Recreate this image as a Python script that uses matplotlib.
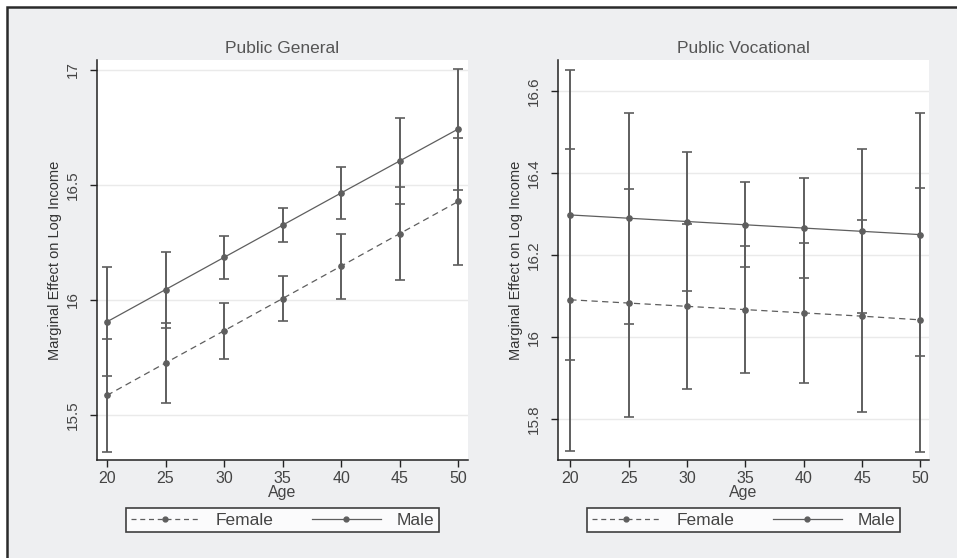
import matplotlib
matplotlib.use("Agg")
import matplotlib.pyplot as plt
from matplotlib.patches import Rectangle
from matplotlib.lines import Line2D

# Values
ages = [20, 25, 30, 35, 40, 45, 50]

gen_male = [15.905, 16.045, 16.185, 16.325, 16.465, 16.604, 16.743]
gen_male_ci = [0.237, 0.165, 0.093, 0.074, 0.115, 0.188, 0.263]
gen_female = [15.585, 15.726, 15.866, 16.006, 16.147, 16.288, 16.428]
gen_female_ci = [0.245, 0.175, 0.121, 0.099, 0.141, 0.203, 0.276]

voc_male = [16.298, 16.290, 16.282, 16.274, 16.266, 16.258, 16.250]
voc_male_ci = [0.353, 0.257, 0.170, 0.104, 0.121, 0.200, 0.296]
voc_female = [16.091, 16.083, 16.075, 16.067, 16.059, 16.051, 16.042]
voc_female_ci = [0.368, 0.278, 0.201, 0.155, 0.171, 0.235, 0.322]

titles = ["Public General", "Public Vocational"]
gen_yticks = [15.5, 16, 16.5, 17]
gen_yticklabels = ["15.5", "16", "16.5", "17"]
voc_yticks = [15.8, 16, 16.2, 16.4, 16.6]
voc_yticklabels = ["15.8", "16", "16.2", "16.4", "16.6"]

plt.rcParams["font.family"] = ["Liberation Sans", "DejaVu Sans"]

line_col = "#5e5e5e"
bg = "#eeeff1"
text_col = "#444444"

fig = plt.figure(figsize=(9.57, 5.58), dpi=100)
fig.patch.set_facecolor("white")
frame = Rectangle((7.5 / 957, -0.05), 1.1, (558 - 6.5) / 558 + 0.05,
                  transform=fig.transFigure, facecolor=bg,
                  edgecolor="#2a2a2a", linewidth=1.8, zorder=-10)
fig.patches.append(frame)

panels = [
    (0.1014, gen_male, gen_male_ci, gen_female, gen_female_ci,
     (19.15, 50.85), (15.304, 17.043), gen_yticks, gen_yticklabels),
    (0.5831, voc_male, voc_male_ci, voc_female, voc_female_ci,
     (18.95, 50.74), (15.70, 16.676), voc_yticks, voc_yticklabels),
]

for i, (left, m, mci, f, fci, xl, yl, yt, ytl) in enumerate(panels):
    ax = fig.add_axes([left, 0.1756, 0.3877, 0.7168])
    ax.set_facecolor("white")

    ax.errorbar(ages, f, yerr=fci, fmt="none", ecolor=line_col,
                elinewidth=1.4, capsize=3.5, capthick=1.2, zorder=3)
    ax.errorbar(ages, m, yerr=mci, fmt="none", ecolor=line_col,
                elinewidth=1.4, capsize=3.5, capthick=1.2, zorder=3)
    ax.plot(ages, f, linestyle=(0, (5, 3.5)), color=line_col, linewidth=0.9,
            marker="o", markersize=3.8, zorder=4)
    ax.plot(ages, m, linestyle="-", color=line_col, linewidth=0.9,
            marker="o", markersize=3.8, zorder=4)

    ax.set_xlim(*xl)
    ax.set_ylim(*yl)
    ax.set_xticks(ages)
    ax.set_xticklabels([str(a) for a in ages])
    ax.set_yticks(yt)
    ax.set_yticklabels(ytl, rotation=90, va="center")

    ax.grid(axis="y", color="#eaeaea", linewidth=1.0, zorder=0)
    ax.set_axisbelow(True)
    for s in ["top", "right"]:
        ax.spines[s].set_visible(False)
    for s in ["left", "bottom"]:
        ax.spines[s].set_color("#222222")
        ax.spines[s].set_linewidth(1.1)
    ax.tick_params(axis="both", direction="out", length=5, width=1.0,
                   color="#222222", labelcolor=text_col)
    ax.tick_params(axis="y", pad=7, labelsize=11)
    ax.tick_params(axis="x", pad=3, labelsize=11.5)

    ax.set_title(titles[i], fontsize=12.5, color="#555555", pad=5)
    ax.set_ylabel("Marginal Effect on Log Income", fontsize=10.5,
                  color="#333333", labelpad=3)
    ax.set_xlabel("Age", fontsize=11.5, color=text_col, labelpad=-1)

    handles = [
        Line2D([], [], linestyle=(0, (4, 3)), color=line_col, linewidth=0.9,
               marker="o", markersize=3.5),
        Line2D([], [], linestyle="-", color=line_col, linewidth=0.9,
               marker="o", markersize=3.5),
    ]
    leg = ax.legend(handles, ["Female", "Male"], loc="center",
                    bbox_to_anchor=(0.5, -0.151), ncol=2, frameon=True,
                    fancybox=False, edgecolor="#111111", fontsize=12.5,
                    handlelength=4.0, handletextpad=0.9, columnspacing=2.2,
                    borderpad=0.25, borderaxespad=0, labelcolor=text_col)
    leg.get_frame().set_linewidth(1.2)

fig.savefig("out.png", dpi=100, facecolor=fig.get_facecolor())
